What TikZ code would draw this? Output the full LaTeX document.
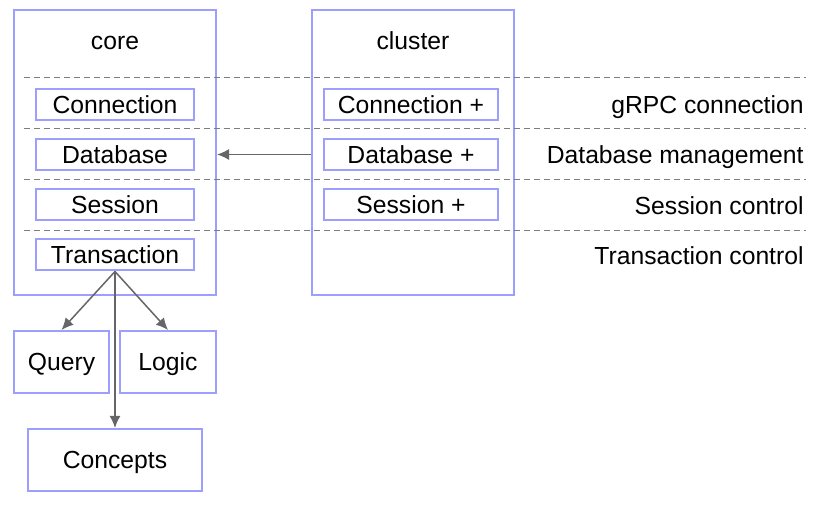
\documentclass[tikz,border=0pt]{standalone}
\usepackage{fontspec}
\setmainfont{Liberation Sans}
\usepackage{tikz}
\usetikzlibrary{arrows,arrows.meta,shapes}
\definecolor{boxline}{RGB}{158,158,255}
\definecolor{arrowgray}{RGB}{102,102,102}
\tikzstyle{txt}=[text height=8.8pt, text depth=0pt]
\tikzstyle{group}=[rectangle, draw=boxline, line width=1pt
,minimum width=101pt, minimum height=142.5pt
,inner sep=0pt
]
\tikzstyle{part}=[rectangle, draw=boxline, line width=1pt
,minimum height=15.5pt
,inner sep=0pt, txt
]
\tikzstyle{leaf}=[rectangle, draw=boxline, line width=1pt
,minimum height=31pt
,inner sep=0pt, txt
]
\tikzstyle{layer} = [draw=arrowgray!85,line width=0.5pt,dash pattern=on 3pt off 2pt]
\tikzstyle{edge} = [draw=arrowgray,line width=0.75pt,-{Latex[length=6pt,width=5.5pt]}]

\begin{document}
\begin{tikzpicture}[x=0.5pt,y=-0.5pt,font=\fontsize{12.35}{14}\selectfont]
    \useasboundingbox (0,0) rectangle (826,507);
    % Outer groups
    \node[group] (core) at (115,152.5) {};
    \node[group] (cluster) at (413,152.5) {};
    \node[txt] (corelabel) at (115,40.5) {core};
    \node[txt] (clusterlabel) at (413,40.5) {cluster};
    % Layer separators
    \foreach \y/\name in {78/sepa, 129/sepb, 180/sepc, 231/sepd} {
        \coordinate (\name l) at (24,\y);
        \coordinate (\name r) at (806,\y);
        \path[layer] (\name l) -- (\name r);
    }
    % Parts inside core and cluster
    \foreach \pos/\name/\text in {{(115,104.5)/conn/Connection}, {(115,154.5)/db/Database},
        {(115,204.5)/sess/Session}, {(115,255)/trans/Transaction}}
        \node[part, minimum width=79pt] (\name) at \pos {\text};
    \foreach \pos/\name/\text in {{(411,104.5)/connp/Connection +}, {(411,154.5)/dbp/Database +},
        {(411,204.5)/sessp/Session +}}
        \node[part, minimum width=87pt] (\name) at \pos {\text};
    % Layer labels
    \foreach \y/\name/\text in {104.5/lconn/gRPC connection, 155/ldb/Database management,
        205.5/lsess/Session control, 255.5/ltrans/Transaction control}
        \node[anchor=east, inner sep=0pt, txt] (\name) at (804,\y) {\text};
    % Modules below
    \node[leaf, minimum width=47.5pt] (query) at (61.5,362) {Query};
    \node[leaf, minimum width=48pt] (logic) at (168,362) {Logic};
    \node[leaf, minimum width=87pt] (concepts) at (115,460) {Concepts};
    % Connect
    \path[edge] (dbp -| cluster.west) -- (dbp -| core.east);
    \foreach \dest in {query, logic, concepts}
        \path[edge] (trans.south) -- (\dest.north);
\end{tikzpicture}
\end{document}
